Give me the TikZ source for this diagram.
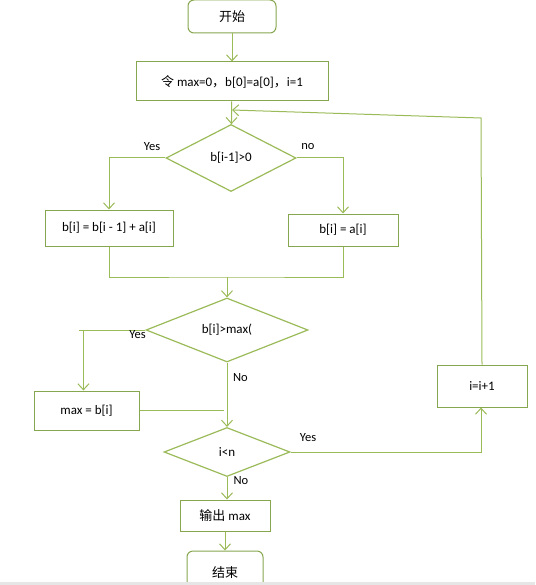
\documentclass[tikz,border=0pt]{standalone}
\usepackage{fontspec}
\setmainfont{Carlito}
\newfontfamily\cjk{Noto Sans CJK SC}
\usepackage{tikz}
\usetikzlibrary{shapes.geometric,positioning,calc,arrows.meta}
\definecolor{flowline}{HTML}{9BBB59}
\definecolor{flowedge}{HTML}{86A64F}
\definecolor{stripgray}{HTML}{E6E6E6}

\begin{document}
\begin{tikzpicture}[
    x=1pt, y=-1pt,
    font=\fontsize{13}{15}\selectfont,
    termnode/.style={rectangle, rounded corners=6pt, draw=flowedge, line width=1pt, inner sep=0pt},
    procnode/.style={rectangle, draw=flowedge, line width=1pt, inner sep=0pt},
    decnode/.style={diamond, draw=flowline, line width=1.2pt, inner sep=0pt},
    arrow/.style={-{Straight Barb[length=6pt,width=11pt]}},
    conn/.style={draw=flowline, line width=1pt},
    lbl/.style={inner sep=0pt, font=\fontsize{12.5}{14}\selectfont}
]
    \useasboundingbox (0,0) rectangle (535,585);
    \clip (0,0) rectangle (535,585);

    \node[termnode, minimum width=88pt, minimum height=33pt] (start) at (232,16.5) {\cjk 开始};
    \node[procnode, minimum width=192pt, minimum height=39pt] (init) at (232,81.5) {{\cjk 令} max=0{\cjk ，}b[0]=a[0]{\cjk ，}i=1};
    \node[decnode, minimum width=130pt, minimum height=67pt] (d1) at (231,158) {b[i-1]>0};
    \node[procnode, minimum width=128pt, minimum height=36pt] (b1) at (109,228) {b[i] = b[i - 1] + a[i]};
    \node[procnode, minimum width=110pt, minimum height=32pt] (b2) at (343,230) {b[i] = a[i]};
    \node[decnode, minimum width=162pt, minimum height=64pt] (d2) at (227,330) {b[i]>max(};
    \node[procnode, minimum width=105pt, minimum height=39pt] (maxbox) at (86.5,410.5) {max = b[i]};
    \node[decnode, minimum width=126pt, minimum height=49pt] (d3) at (227,452) {i<n};
    \node[procnode, minimum width=90pt, minimum height=42pt] (inc) at (482,386) {i=i+1};
    \node[procnode, minimum width=90pt, minimum height=31pt] (out) at (225,515.5) {{\cjk 输出} max\hspace{8pt}};
    \node[termnode, minimum width=76pt, minimum height=44pt] (stop) at (225,573) {\raisebox{0pt}{\cjk 结束}};

    \coordinate (join) at (227,277);
    \coordinate (backturn) at (481,118);
    \coordinate (backin) at (232,110);

    \draw[conn, arrow] (start) -- (init);
    \draw[conn, arrow] (init) -- (d1);
    \draw[conn, arrow] (inc.north) -- (backturn) -- (backin);

    \draw[conn, arrow] (d1.west) -| (b1.north);
    \draw[conn, arrow] (d1.east) -| (b2.north);
    \node[lbl] (yes1) at (152,147) {Yes};
    \node[lbl] (no1) at (308,147) {no};

    \draw[conn] (b1.south) |- (join) -| (b2.south);
    \draw[conn, arrow] (join) -- (d2.north);

    \draw[conn] (d2.west) -- ++(-66,0) coordinate (yesturn);
    \draw[conn, arrow] ([xshift=4pt]yesturn) -- ([xshift=4pt]yesturn |- maxbox.north);
    \node[lbl] (yes2) at (137.5,335) {Yes};
    \draw[conn] (maxbox.east) -- ([xshift=-3pt]maxbox.east -| d2.south);

    \draw[conn, arrow] (d2.south) -- (d3.north);
    \node[lbl] (no2) at (240.5,378) {No};

    \draw[conn, arrow] (d3.east) -| ([xshift=-1pt]inc.south);
    \node[lbl] (yes3) at (308,438) {Yes};

    \draw[conn, arrow] (d3.south) -- (d3.south |- out.north);
    \node[lbl] (no3) at (241,481) {No};

    \draw[conn, arrow] (out) -- (stop);

    \fill[stripgray] (0,582) rectangle (535,585);
\end{tikzpicture}
\end{document}
